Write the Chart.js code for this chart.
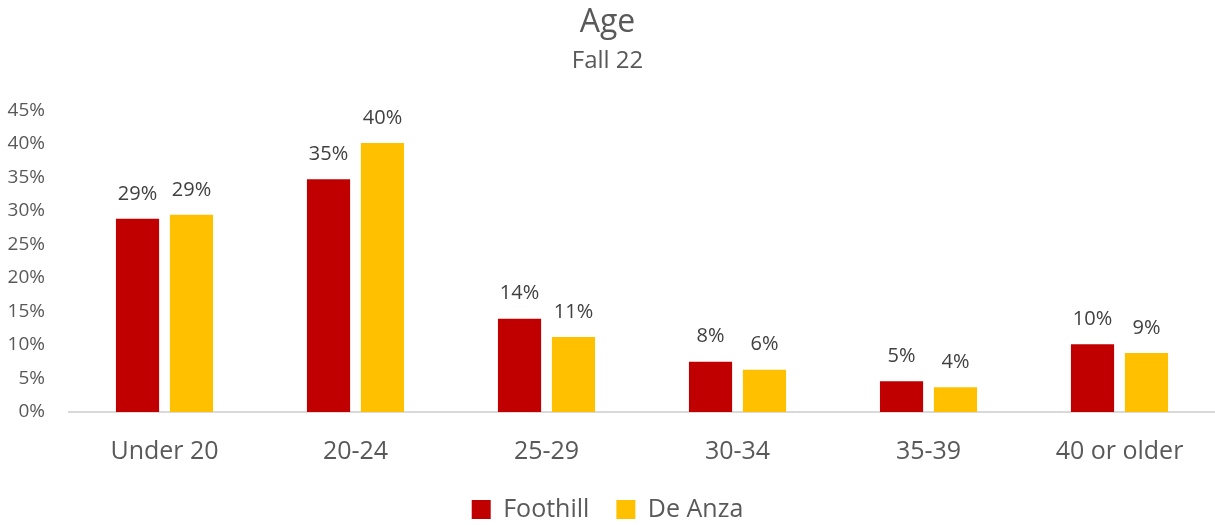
<!DOCTYPE html>
<html>
<head>
<meta charset="utf-8">
<script src="https://cdn.jsdelivr.net/npm/chart.js@4"></script>
<style>
  html, body { margin: 0; padding: 0; background: #fff; }
  #wrap { width: 1215px; height: 525px; position: relative; }
</style>
</head>
<body>
<div id="wrap"><canvas id="graph"></canvas></div>
<script>
// Data
const categories = ['Under 20', '20-24', '25-29', '30-34', '35-39', '40 or older'];
const foothill = [0.288, 0.347, 0.139, 0.075, 0.046, 0.101];
const deAnza = [0.294, 0.401, 0.112, 0.063, 0.037, 0.088];
const yTicks = [0, 0.05, 0.10, 0.15, 0.20, 0.25, 0.30, 0.35, 0.40, 0.45];

const FONT = "'Open Sans', 'Liberation Sans', sans-serif";
const GREY = '#595959';

// simple value labels above each bar
const barLabels = {
    id: 'barLabels',
    afterDatasetsDraw(chart) {
        const ctx = chart.ctx;
        ctx.save();
        ctx.font = '20px ' + FONT;
        ctx.fillStyle = '#404040';
        ctx.textAlign = 'center';
        ctx.textBaseline = 'bottom';
        chart.data.datasets.forEach((ds, i) => {
            chart.getDatasetMeta(i).data.forEach((bar, j) => {
                ctx.fillText(Math.round(ds.data[j] * 100) + '%', bar.x, bar.y - 15);
            });
        });
        ctx.restore();
    }
};

const ctx = document.getElementById('graph').getContext('2d');
const ageChart = new Chart(ctx, {
    type: 'bar',
    data: {
        labels: categories,
        datasets: [{
            label: 'Foothill',
            data: foothill,
            backgroundColor: '#C00000',
            categoryPercentage: 0.565,
            barPercentage: 0.8
        }, {
            label: 'De Anza',
            data: deAnza,
            backgroundColor: '#FFC000',
            categoryPercentage: 0.565,
            barPercentage: 0.8
        }]
    },
    options: {
        responsive: true,
        maintainAspectRatio: false,
        animation: false,
        layout: { padding: { left: 0, right: 0, top: 0, bottom: -7 } },
        scales: {
            x: {
                grid: { display: false, drawTicks: false },
                border: { display: true, color: '#d9d9d9', width: 2 },
                afterFit: axis => { axis.height = 58; },
                ticks: { color: GREY, font: { family: FONT, size: 25 }, padding: 25 }
            },
            y: {
                min: 0,
                max: 0.45,
                grid: { display: false, drawTicks: false },
                border: { display: false },
                afterFit: axis => { axis.width = 69; },
                afterBuildTicks: axis => { axis.ticks = yTicks.map(v => ({ value: v })); },
                ticks: {
                    color: GREY,
                    font: { family: FONT, size: 19 },
                    padding: 24,
                    callback: v => Math.round(v * 100) + '%'
                }
            }
        },
        plugins: {
            title: {
                display: true,
                text: 'Age',
                color: GREY,
                font: { family: FONT, size: 32, weight: 'normal' },
                padding: { top: 4, bottom: 4 }
            },
            subtitle: {
                display: true,
                text: 'Fall 22',
                color: GREY,
                font: { family: FONT, size: 24, weight: 'normal' },
                padding: { bottom: 35 }
            },
            legend: {
                position: 'bottom',
                labels: {
                    color: GREY,
                    font: { family: FONT, size: 25 },
                    boxWidth: 19,
                    boxHeight: 19,
                    padding: 27
                }
            },
            tooltip: { enabled: false }
        }
    },
    plugins: [barLabels]
});
</script>
</body>
</html>
